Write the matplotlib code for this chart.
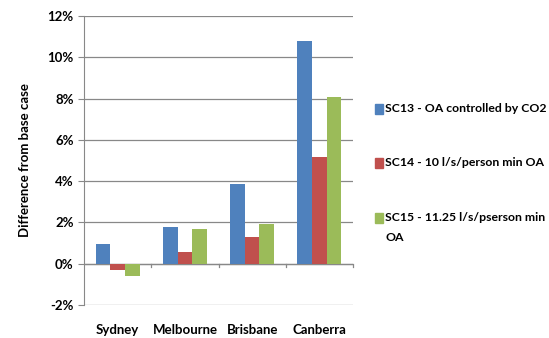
import numpy as np
import matplotlib.pyplot as plt
from matplotlib.ticker import FuncFormatter
from matplotlib.patches import Rectangle

cities = ["Sydney", "Melbourne", "Brisbane", "Canberra"]
sc13 = [0.95, 1.8, 3.87, 10.8]
sc14 = [-0.3, 0.55, 1.28, 5.18]
sc15 = [-0.58, 1.67, 1.93, 8.07]
labels = ["SC13 - OA controlled by CO2",
          "SC14 - 10 l/s/person min OA",
          "SC15 - 11.25 l/s/pserson min\nOA"]
colors = ["#4F81BD", "#C0504D", "#9BBB59"]

plt.rcParams['font.family'] = ['Lato', 'DejaVu Sans']
plt.rcParams['font.weight'] = 'bold'

W, H = 549, 338
fig = plt.figure(figsize=(W / 100, H / 100), dpi=100)
ax = fig.add_axes([0.153, 0.0976, 0.49, 0.855])

x = np.arange(len(cities))
w = 0.218
for i, (vals, c) in enumerate(zip([sc13, sc14, sc15], colors)):
    ax.bar(x + (i - 1) * w, vals, w, color=c)

ax.set_xlim(-0.5, 3.5)
ax.set_ylim(-2, 12)
ax.set_yticks(np.arange(-2, 13, 2))
ax.yaxis.set_major_formatter(FuncFormatter(lambda v, p: f"{v:.0f}%"))
ax.grid(axis='y', color='#888888', linewidth=0.9)
ax.set_axisbelow(True)

for s in ['top', 'right', 'bottom']:
    ax.spines[s].set_visible(False)
ax.spines['left'].set_color('#888888')
ax.axhline(0, color='#888888', linewidth=0.9, zorder=0.5)

ax.set_xticks(x)
ax.set_xticklabels(cities, fontsize=9.5, fontweight='bold')
ax.tick_params(axis='x', length=0, pad=14)
ax.tick_params(axis='y', labelsize=9.5, color='#888888', length=4)

# separators between categories on the zero line
for xs in [0.5, 1.5, 2.5, 3.5]:
    ax.plot([xs, xs], [0, -0.14], color='#888888', linewidth=0.9, clip_on=False)

ax.set_ylabel("Difference from base case", fontsize=9.5, fontweight='bold', labelpad=12)

# legend entries, square swatch aligned with the first text line
rows_y = [109, 163, 218]
for lab, c, yp in zip(labels, colors, rows_y):
    fig.patches.append(Rectangle((375 / W, 1 - (yp + 5) / H), 8 / W, 10 / H,
                                 color=c, transform=fig.transFigure))
    fig.text(385 / W, 1 - (yp - 6) / H, lab, fontsize=8.8, fontweight='bold',
             va='top', ha='left', linespacing=2.0)

fig.savefig("out.png", dpi=100)
